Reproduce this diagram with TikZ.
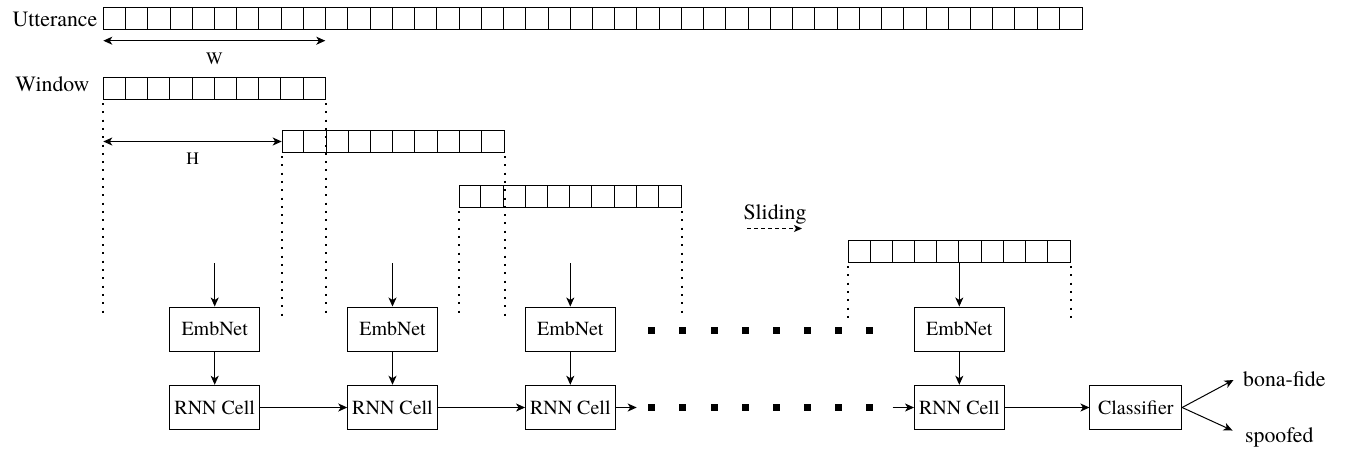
\documentclass[tikz,border=0pt]{standalone}
\usepackage{fontspec}
\setmainfont{TeX Gyre Termes}
\usetikzlibrary{arrows.meta}
\newcommand\myboxfont{\fontsize{20}{24}\selectfont}
\newcommand\mylblfont{\fontsize{21.8}{26}\selectfont}
\newcommand\mysmallfont{\fontsize{17.5}{21}\selectfont}
\tikzset{
  cellrow/.style={draw, line width=1pt, minimum height=22pt, inner sep=0pt, anchor=north west},
  stepbox/.style={draw, line width=1pt, minimum width=89.5pt, minimum height=44.5pt, inner sep=0pt, font=\myboxfont},
  arr/.style={-{Stealth[length=9pt,width=8pt,inset=2.5pt]}, line width=1pt},
  dbl/.style={{Stealth[length=9pt,width=8pt,inset=2.5pt]}-{Stealth[length=9pt,width=8pt,inset=2.5pt]}, line width=1pt},
  dotline/.style={line width=2pt, dash pattern=on 2pt off 6.3pt},
  lbl/.style={font=\mylblfont, inner sep=0pt},
  small/.style={font=\mysmallfont, inner sep=0pt},
  sq/.style={fill=black, minimum size=7pt, inner sep=0pt},
}
\begin{document}
\begin{tikzpicture}[x=1pt,y=-1pt]
\useasboundingbox (0,0) rectangle (1346,451);

% utterance row
\node[cellrow, minimum width=978.4pt] (utt) at (103.3,7.3) {};
\foreach \i in {1,...,43} \draw[line width=1pt] (utt.north west) ++(\i*22.236,0) -- ++(0,22);
\node[lbl, anchor=base east] (uttl) at (97.5,26.7) {Utterance};

% W arrow
\coordinate (wa) at (103.3,40.7);
\coordinate (wb) at (325.3,40.7);
\draw[dbl] (wa) -- (wb);
\node[small, anchor=base] (wl) at (214.3,64.3) {W};

% windows
\node[cellrow, minimum width=222pt] (w1) at (103.3,77) {};
\node[cellrow, minimum width=222pt] (w2) at (281.7,130) {};
\node[cellrow, minimum width=222pt] (w3) at (458.6,185) {};
\node[cellrow, minimum width=222pt] (w4) at (847.8,240) {};
\foreach \w in {w1,w2,w3,w4}
  \foreach \i in {1,...,9} \draw[line width=1pt] (\w.north west) ++(\i*22.2,0) -- ++(0,22);
\node[lbl, anchor=base east] (winl) at (89.5,91.7) {Window};

% dotted guides
\coordinate (bot) at (0,318);
\foreach \w in {w1,w2,w3} {
  \draw[dotline] ([yshift=-3pt]\w.south west) -- (\w.south west |- bot);
  \draw[dotline] ([yshift=-3pt]\w.south east) -- (\w.south east |- bot);
}
\draw[dotline] ([yshift=-3pt]w4.south west) -- (w4.south west |- bot);
\draw[dotline] ([yshift=-3pt]w4.south east) -- (w4.south east |- bot);

% H arrow
\coordinate (hs) at (w1.south west |- w2.west);
\draw[dbl] (hs) -- (w2.west);
\node[small, anchor=base] (hl) at (192.7,164) {H};

% sliding
\node[lbl, anchor=base] (sl) at (775,219) {Sliding};
\coordinate (sa) at (747.3,228.5);
\coordinate (sb) at (802,228.5);
\draw[-{Stealth[length=8pt,width=7pt,inset=2pt]}, line width=1pt, dash pattern=on 4pt off 3pt] (sa) -- (sb);

% EmbNet and RNN cells
\node[stepbox] (e1) at (214.7,329.25) {EmbNet};
\node[stepbox] (e2) at (392.5,329.25) {EmbNet};
\node[stepbox] (e3) at (570.3,329.25) {EmbNet};
\node[stepbox] (e4) at (959.3,329.25) {EmbNet};
\node[stepbox] (r1) at (214.7,407.5) {RNN Cell};
\node[stepbox] (r2) at (392.5,407.5) {RNN Cell};
\node[stepbox] (r3) at (570.3,407.5) {RNN Cell};
\node[stepbox] (r4) at (959.3,407.5) {RNN Cell};
\node[stepbox, minimum width=91.7pt] (cl) at (1135.8,407.5) {Classifier};

% inputs
\coordinate (top) at (0,263);
\foreach \e in {e1,e2,e3} \draw[arr] (\e.north |- top) -- (\e.north);
\draw[arr] (e4.north |- w4.south) -- (e4.north);
\foreach \k in {1,2,3,4} \draw[arr] (e\k.south) -- (r\k.north);

% recurrent chain
\draw[arr] (r1.east) -- (r2.west);
\draw[arr] (r2.east) -- (r3.west);
\coordinate (ca) at (636.7,407.5);
\coordinate (cb) at (892.7,407.5);
\draw[arr] (r3.east) -- (ca);
\draw[arr] (cb) -- (r4.west);
\draw[arr] (r4.east) -- (cl.west);

% ellipsis squares
\foreach \k in {0,...,7} {
  \node[sq] (sa\k) at (651.7+31.15*\k,330) {};
  \node[sq] (sb\k) at (651.7+31.15*\k,407.5) {};
}

% outputs
\node[lbl, anchor=base west] (bona) at (1243,386.7) {bona-fide};
\node[lbl, anchor=base west] (spoof) at (1245,442) {spoofed};
\coordinate (ob) at (1233.5,380);
\coordinate (os) at (1232.5,430.5);
\draw[arr] (cl.east) -- (ob);
\draw[arr] (cl.east) -- (os);
\end{tikzpicture}
\end{document}
